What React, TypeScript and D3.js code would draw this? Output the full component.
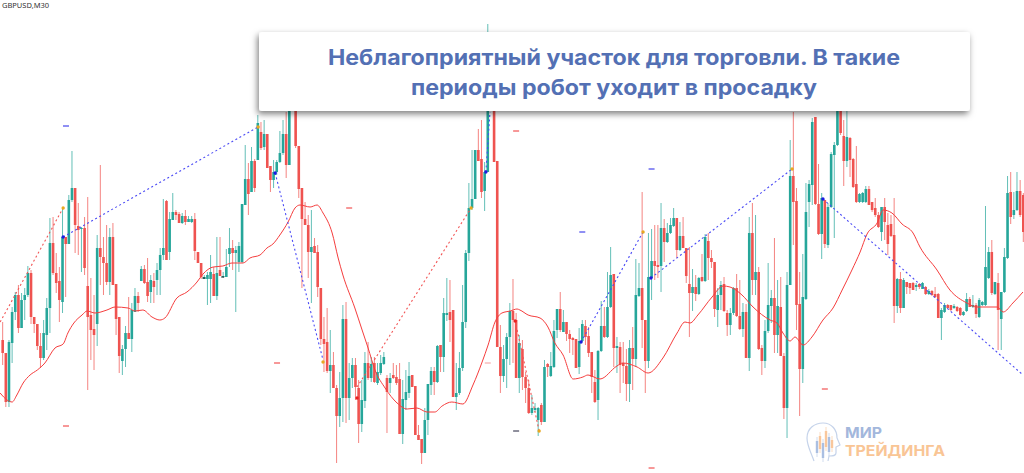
import React, { useEffect, useRef } from 'react';
import * as d3 from 'd3';

// price in points above the bottom of the window, one entry per M30 bar
const opens = [
  133,120,71,130,161,178,145,173,178,200,
  156,149,127,115,138,165,230,200,192,171,
  236,229,273,285,247,244,245,187,158,144,
  149,225,216,210,191,236,189,156,112,124,
  140,134,161,177,192,204,191,181,192,193,
  203,218,272,221,253,261,259,250,257,251,
  251,254,221,210,194,194,194,199,177,203,
  196,196,219,225,220,211,211,268,294,281,
  312,313,341,326,339,307,293,301,311,320,
  339,308,380,375,327,285,254,248,221,227,
  221,185,134,131,102,108,85,57,75,154,
  75,95,108,85,49,72,110,95,110,90,
  100,109,95,90,98,96,94,39,73,80,
  98,87,38,34,20,53,88,102,91,128,
  116,158,161,163,76,80,105,151,220,265,
  274,323,314,282,301,375,370,312,126,97,
  114,136,162,153,95,124,96,85,60,63,
  53,68,51,109,97,106,143,164,141,151,
  139,135,134,106,132,147,137,121,91,73,
  122,147,136,166,199,125,126,110,107,89,
  125,114,177,185,153,112,195,212,208,207,
  245,231,240,247,255,223,237,225,189,180,
  186,179,196,192,232,215,211,163,178,189,
  160,148,160,185,157,144,161,115,240,193,
  201,125,112,142,167,175,138,166,117,65,
  188,297,272,169,104,174,271,288,356,269,
  239,273,228,266,318,328,370,337,312,335,
  314,289,271,271,271,284,271,265,258,241,
  266,248,249,238,167,194,165,191,190,190,
  186,189,184,186,179,182,179,179,155,161,
  168,168,165,166,165,158,162,174,166,168,
  156,168,168,195,221,179,190,154,181,215,
  281,258,263,282,278,
];

const closes = [
  120,71,131,161,178,145,173,178,200,156,
  149,127,115,140,165,230,200,190,173,236,
  229,273,285,248,243,245,205,156,143,138,
  225,216,210,191,236,188,154,117,124,140,
  134,163,177,170,204,190,177,193,186,203,
  218,225,213,254,261,258,250,257,251,254,
  254,222,210,196,196,198,201,177,200,197,
  197,206,225,220,223,227,269,294,279,312,
  285,350,325,339,305,293,301,311,320,339,
  308,365,370,327,284,254,248,221,226,220,
  186,134,129,102,108,85,57,75,154,75,
  95,108,86,49,73,110,95,109,91,101,
  110,116,81,95,95,90,39,74,81,97,
  86,38,33,20,53,89,102,91,127,116,
  160,160,153,76,80,105,151,220,265,274,
  323,312,281,301,370,365,311,126,97,114,
  136,162,153,95,130,96,85,60,65,65,
  65,51,106,106,107,142,164,143,151,139,
  134,133,105,132,149,136,120,96,71,122,
  147,136,166,198,125,127,108,107,89,125,
  114,178,185,153,112,196,212,207,206,245,
  231,240,248,255,223,237,225,197,180,186,
  179,195,192,236,215,211,164,178,188,162,
  148,160,185,157,144,161,115,240,193,201,
  124,112,142,168,175,138,167,117,65,188,
  297,271,168,104,176,261,289,351,269,239,
  275,229,266,319,328,370,340,312,336,313,
  286,271,279,280,284,268,263,258,246,266,
  251,229,237,167,194,165,193,186,185,183,
  188,186,190,179,182,178,176,155,163,168,
  165,163,167,162,158,161,174,166,168,159,
  173,171,206,221,180,191,163,181,216,280,
  256,263,282,258,241,
];

const highs = [
  151,120,133,166,181,188,180,185,207,203,
  156,149,140,153,175,255,256,220,206,265,
  236,278,322,285,270,246,256,276,195,178,
  238,308,236,248,245,250,189,156,128,147,
  176,170,185,181,207,208,215,198,200,210,
  225,274,273,261,280,263,261,260,263,257,
  257,260,221,210,198,201,218,206,236,236,
  201,224,245,233,227,231,269,328,310,326,
  314,358,351,353,339,307,313,313,342,353,
  361,380,385,380,327,285,271,258,263,235,
  228,185,156,165,143,121,88,101,168,171,
  110,115,115,93,93,121,131,116,116,110,
  118,121,98,100,110,108,110,93,103,111,
  98,87,48,34,65,89,106,106,128,128,
  175,195,193,163,110,121,188,223,290,323,
  323,344,353,311,449,385,380,312,148,128,
  140,170,194,160,138,133,101,93,78,70,
  66,70,113,110,121,153,164,181,163,151,
  143,136,134,145,153,153,146,121,103,123,
  172,166,201,226,199,136,131,131,124,133,
  146,214,210,281,153,240,244,248,248,270,
  254,250,255,265,255,251,256,225,226,204,
  198,196,219,239,240,223,211,185,192,196,
  163,165,186,199,193,170,169,256,270,258,
  206,128,153,210,183,235,193,196,120,201,
  333,361,285,201,219,290,293,355,356,309,
  280,273,270,321,331,380,380,353,370,336,
  315,327,280,281,287,287,271,275,261,266,
  275,260,258,275,195,201,195,191,190,191,
  190,190,191,187,184,183,186,180,165,170,
  169,168,169,167,166,162,180,176,178,170,
  175,172,267,226,233,191,200,181,225,297,
  301,281,301,293,280,
];

const lows = [
  108,66,66,110,153,140,145,153,176,149,
  140,123,105,113,123,140,198,180,151,160,
  176,229,271,220,218,201,198,83,113,103,
  127,188,178,188,178,188,138,100,98,106,
  134,121,161,161,192,189,171,170,170,178,
  178,213,213,213,253,253,250,249,248,251,
  250,213,210,194,194,168,170,177,173,197,
  195,196,206,203,161,201,210,268,258,281,
  281,313,323,323,305,281,285,298,310,318,
  295,308,365,325,275,185,248,195,170,220,
  176,128,101,100,80,85,10,46,51,50,
  53,85,73,30,41,65,93,91,90,88,
  98,108,40,80,94,88,39,29,63,75,
  86,38,33,9,20,38,78,78,90,101,
  101,152,131,76,63,78,102,145,212,263,
  274,312,275,262,301,364,311,126,80,91,
  85,108,110,95,80,83,70,59,58,61,
  37,48,51,96,96,105,135,141,141,132,
  120,118,105,99,131,128,116,80,70,53,
  121,135,135,165,106,100,80,90,72,71,
  83,106,176,125,80,105,173,193,195,181,
  211,230,239,246,215,222,225,190,136,162,
  172,178,191,191,193,205,156,146,163,161,
  137,138,158,156,143,136,115,102,178,178,
  123,98,105,140,150,120,120,117,54,35,
  188,228,143,57,90,173,246,268,268,238,
  214,225,225,265,235,327,338,287,306,296,
  285,270,270,270,270,268,261,256,245,232,
  233,218,236,150,160,160,165,179,179,183,
  182,184,184,178,178,177,175,155,133,160,
  164,162,164,161,157,157,161,166,165,155,
  155,167,167,194,178,178,123,123,180,214,
  249,254,262,256,231,
];

const maBars = [
  -0.8,1.4,3,4.5,6.5,8.7,11,13.4,16.6,19.2,20.7,22.6,25.2,26.8,29.3,33.1,35.7,39.8,42,44.5,47.4,49.9,51.5,55.3,58.5,61.7,63.6,66.8,69.9,72.8,76.3,78.5,
  81.7,83.9,85.8,88,90.6,92.8,94.4,97.6,99.8,101.7,104.6,106.5,108,111.8,114.1,116,118.2,121.4,125.2,128.4,131.5,134.7,137.2,139.5,142.6,146.1,149.3,152.2,154.1,156.3,158.5,161.1,163.3,
  164.2,166.8,170.6,173.1,175.3,177.9,181.1,184.2,185.8,189.6,195,196.9,201.4,204.9,209.6,214.1,216.6,218.2,220.7,225.2,228.7,230.9,234.7,238.2,
  243.6,245.8,247.7,250,251.5,254.1,256.9,260.4,263.6,266.5,269.6,272.2,274.4,277.6,279.5,282.3,285.5,289,291.2,296.6,300.7,306.1,309.3,315.7,317.6,320.7,323.9,
];
const maValues = [
  80,73,71,78,90,98,103,110,125,129,140,150,158,162,160,163,166,165,162,163,156,153,155,175,181,191,199,206,207,210,210,215,
  218,225,229,238,251,265,268,266,268,260,240,215,198,165,143,125,103,85,70,64,65,61,61,67,71,69,88,111,128,151,160,162,164,
  163,158,155,146,130,118,94,96,98,94,107,110,106,100,115,140,151,150,158,176,187,186,178,166,
  153,150,140,132,136,128,136,153,165,183,203,221,239,250,263,260,249,240,226,203,183,170,166,166,161,170,181,
];

// zigzag legs: [bar, price, bar, price]
const blueLegs = [
  [19.2,236,81.1,346],
  [86.5,300,101.7,113],
  [153.4,301,154.7,361],
  [183.6,131,203.3,241],
  [205.8,195,250.6,304],
  [260.4,274,323.9,98],
];
const redLegs = [
  [-0.8,151,19.2,265],
  [112.5,86,148.7,265],
  [162.7,152,170.3,42],
];

const entryBars = [19.2,86.5,153.4,183.6,205.8,260.4];
const entryPrices = [236,300,301,131,195,274];
const exitBars = [19.2,81.1,101.7,148.7,203.3,250.6,170.3];
const exitPrices = [265,346,111,265,241,304,42];
const stopBars = [112.5,162.7];
const stopPrices = [75,152];

const levelBars = [20.1,110,87.1,163,154,163,184,206,206,261,20.1];
const levelPrices = [347,265,110,342,110,42,241,304,5,84,47];
const levelKinds = ['b','r','r','r','p','k','b','b','r','r','r'];
const tickBars = [64,70];
const tickPrices = [195,196];

const TEAL = '#26a69a';
const RED = '#ef5350';

const App = () => {
  const svgRef = useRef<SVGSVGElement>(null);

  useEffect(() => {
    const svg = d3.select(svgRef.current);
    svg.selectAll('*').remove();

    const x = d3.scaleLinear().domain([0, opens.length - 1]).range([2.67, 1023.3]);
    const y = d3.scaleLinear().domain([0, 473]).range([473, 0]);
    const idx = d3.range(opens.length);

    const defs = svg.append('defs');
    const shadow = defs.append('filter').attr('id', 'cardShadow')
      .attr('x', '-5%').attr('y', '-20%').attr('width', '110%').attr('height', '140%');
    shadow.append('feDropShadow')
      .attr('dx', -1.5).attr('dy', 3).attr('stdDeviation', 3)
      .attr('flood-color', '#000').attr('flood-opacity', 0.5);

    svg.append('rect').attr('width', 1024).attr('height', 473).attr('fill', '#fff');

    // wicks
    svg.append('g').selectAll('line').data(idx).enter().append('line')
      .attr('x1', d => x(d)).attr('x2', d => x(d))
      .attr('y1', d => y(highs[d])).attr('y2', d => y(lows[d]))
      .attr('stroke', d => closes[d] >= opens[d] ? TEAL : RED)
      .attr('stroke-width', 0.9).attr('stroke-opacity', 0.8);

    // bodies
    svg.append('g').selectAll('rect').data(idx).enter().append('rect')
      .attr('x', d => x(d) - 1.3).attr('width', 2.6)
      .attr('y', d => y(Math.max(opens[d], closes[d])))
      .attr('height', d => Math.max(1, Math.abs(y(opens[d]) - y(closes[d]))))
      .attr('fill', d => closes[d] >= opens[d] ? TEAL : RED);

    // moving average
    const maLine = d3.line<number>()
      .x(i => x(maBars[i])).y(i => y(maValues[i]))
      .curve(d3.curveMonotoneX);
    svg.append('path').attr('d', maLine(d3.range(maBars.length)))
      .attr('fill', 'none').attr('stroke', '#f53d3d').attr('stroke-width', 1);

    const drawLegs = (legs: number[][], color: string) => {
      svg.append('g').selectAll('line').data(legs).enter().append('line')
        .attr('x1', d => x(d[0])).attr('y1', d => y(d[1]))
        .attr('x2', d => x(d[2])).attr('y2', d => y(d[3]))
        .attr('stroke', color).attr('stroke-width', 1.1)
        .attr('stroke-dasharray', '2,2.6');
    };
    drawLegs(blueLegs, '#4a4af5');
    drawLegs(redLegs, '#f25555');

    const drawDots = (bars: number[], prices: number[], color: string) => {
      svg.append('g').selectAll('circle').data(bars).enter().append('circle')
        .attr('cx', d => x(d)).attr('cy', (_, i) => y(prices[i]))
        .attr('r', 1.7).attr('fill', color);
    };
    drawDots(entryBars, entryPrices, '#1a1ae0');
    drawDots(exitBars, exitPrices, '#e8a820');
    drawDots(stopBars, stopPrices, '#e92020');

    const levelColor = { b: '#2020e8', r: '#ef3030', p: '#f59a9a', k: '#20203a' };
    svg.append('g').selectAll('line').data(levelBars).enter().append('line')
      .attr('x1', d => x(d) - 3).attr('x2', d => x(d) + 3)
      .attr('y1', (_, i) => y(levelPrices[i])).attr('y2', (_, i) => y(levelPrices[i]))
      .attr('stroke', (_, i) => levelColor[levelKinds[i]]).attr('stroke-width', 1);
    svg.append('g').selectAll('line').data(tickBars).enter().append('line')
      .attr('x1', d => x(d) - 2).attr('x2', d => x(d) + 1)
      .attr('y1', (_, i) => y(tickPrices[i])).attr('y2', (_, i) => y(tickPrices[i]))
      .attr('stroke', '#222').attr('stroke-width', 1);

    svg.append('text').attr('x', 2).attr('y', 8)
      .attr('font-family', '"Noto Sans", sans-serif').attr('font-size', 7.5)
      .attr('fill', '#333').text('GBPUSD,M30');

    // caption card
    svg.append('rect').attr('x', 259).attr('y', 32).attr('width', 711).attr('height', 79)
      .attr('rx', 3).attr('fill', '#fff').attr('filter', 'url(#cardShadow)');
    const caption = svg.append('g')
      .attr('font-family', 'Inter, sans-serif').attr('font-weight', 700)
      .attr('font-size', 21).attr('fill', '#5370b4').attr('text-anchor', 'middle');
    caption.append('text').attr('x', 614).attr('y', 65)
      .attr('textLength', 572).attr('lengthAdjust', 'spacingAndGlyphs')
      .text('Неблагоприятный участок для торговли. В такие');
    caption.append('text').attr('x', 614).attr('y', 95)
      .attr('textLength', 406).attr('lengthAdjust', 'spacingAndGlyphs')
      .text('периоды робот уходит в просадку');

    // watermark
    const logo = svg.append('g');
    logo.append('path')
      .attr('d', 'M814 461 C811 452 807 446 807 438 C807 428 815 423 823 423 C832 423 837 430 837 438 L840 445 L836 447 L836 453 C836 456 833 456 829 456 L828 461')
      .attr('fill', 'none').attr('stroke', '#c5d3ea').attr('stroke-width', 1.2);
    const logoX = [817, 820, 823, 826, 829, 832];
    const logoTop = [441, 436, 443, 431, 437, 440];
    const logoBottom = [453, 449, 458, 447, 452, 448];
    logoX.forEach((lx, i) => {
      logo.append('line').attr('x1', lx).attr('x2', lx).attr('y1', logoTop[i] - 4).attr('y2', logoBottom[i] + 4)
        .attr('stroke', i % 2 ? '#f9d4b4' : '#c5d3ea').attr('stroke-width', 0.8);
      logo.append('rect').attr('x', lx - 1.2).attr('width', 2.4).attr('y', logoTop[i]).attr('height', logoBottom[i] - logoTop[i])
        .attr('fill', i % 2 ? '#f9c79c' : '#aabfe2');
    });
    logo.append('text').attr('x', 845).attr('y', 438)
      .attr('font-family', 'Inter, sans-serif').attr('font-weight', 700).attr('font-size', 15)
      .attr('fill', '#a3b7dc').attr('textLength', 37).attr('lengthAdjust', 'spacingAndGlyphs').text('МИР');
    logo.append('text').attr('x', 845).attr('y', 456)
      .attr('font-family', 'Inter, sans-serif').attr('font-weight', 700).attr('font-size', 15)
      .attr('fill', '#f9c595').attr('textLength', 100).attr('lengthAdjust', 'spacingAndGlyphs').text('ТРЕЙДИНГА');
  }, []);

  return (
    <svg ref={svgRef} width={1024} height={473}
      style={{ position: 'absolute', left: 0, top: 0, display: 'block' }} />
  );
};

export default App;
